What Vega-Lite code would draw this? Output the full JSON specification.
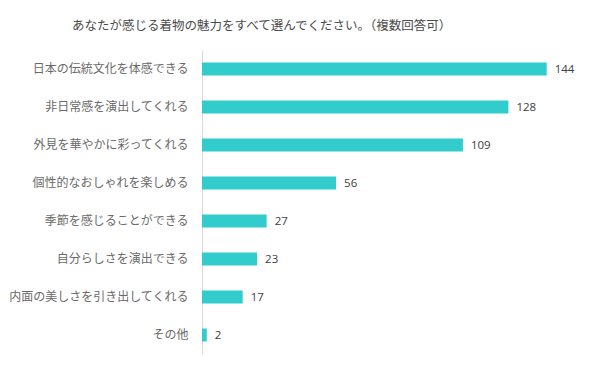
{
  "$schema": "https://vega.github.io/schema/vega-lite/v6.json",
  "width": 383,
  "height": 304,
  "autosize": {"type": "none"},
  "padding": {"left": 202, "top": 50, "right": 15, "bottom": 15},
  "background": "white",
  "title": {
    "text": "あなたが感じる着物の魅力をすべて選んでください。（複数回答可）",
    "anchor": "start",
    "frame": "group",
    "dx": -130,
    "offset": 18,
    "fontSize": 12.5,
    "fontWeight": "normal",
    "font": "Noto Sans CJK JP",
    "color": "#4a4a4a"
  },
  "data": {
    "values": [
      {"item": "日本の伝統文化を体感できる", "count": 144},
      {"item": "非日常感を演出してくれる", "count": 128},
      {"item": "外見を華やかに彩ってくれる", "count": 109},
      {"item": "個性的なおしゃれを楽しめる", "count": 56},
      {"item": "季節を感じることができる", "count": 27},
      {"item": "自分らしさを演出できる", "count": 23},
      {"item": "内面の美しさを引き出してくれる", "count": 17},
      {"item": "その他", "count": 2}
    ]
  },
  "encoding": {
    "y": {
      "field": "item",
      "type": "nominal",
      "sort": null,
      "scale": {"paddingInner": 0.66, "paddingOuter": 0.33},
      "axis": {
        "title": null,
        "ticks": false,
        "labelFont": "Noto Sans CJK JP",
        "labelFontSize": 12,
        "labelColor": "#6a6a6a",
        "labelPadding": 14,
        "domainColor": "#d9d9d9",
        "domainWidth": 1,
        "labelLimit": 250
      }
    },
    "x": {
      "field": "count",
      "type": "quantitative",
      "scale": {"domain": [0, 160], "nice": false},
      "axis": null
    }
  },
  "layer": [
    {"mark": {"type": "bar", "color": "#33CCCC"}},
    {
      "mark": {
        "type": "text",
        "align": "left",
        "baseline": "middle",
        "dx": 8,
        "dy": 1,
        "fontSize": 11.5,
        "font": "Open Sans",
        "color": "#404040"
      },
      "encoding": {"text": {"field": "count", "type": "quantitative"}}
    }
  ],
  "config": {"view": {"stroke": null}}
}
